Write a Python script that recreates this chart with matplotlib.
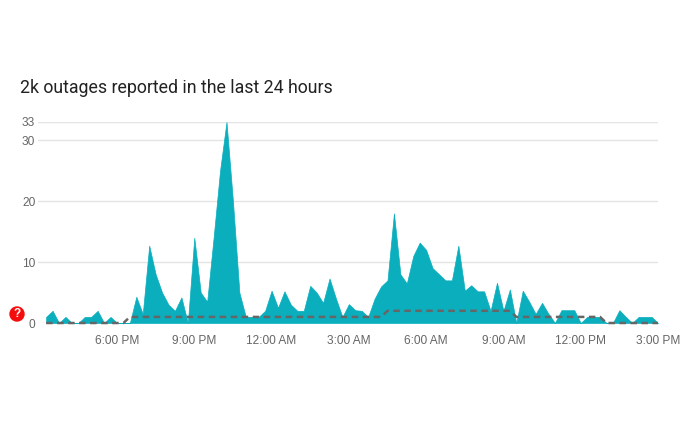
import matplotlib
matplotlib.use("Agg")
import matplotlib.pyplot as plt
import matplotlib.dates as mdates
import pandas as pd
from matplotlib.patches import Ellipse

# values every 15 minutes
reports = [1, 2, 0, 1, 0, 0, 1, 1, 2, 0, 1, 0, 0, 0, 4.3, 1.5,
           12.7, 8, 5, 3, 2, 4.2, 0, 14, 5, 3.5, 14, 25, 33, 20, 5, 1,
           1, 1, 2, 5.3, 2.5, 5.2, 3, 2, 2, 6.1, 5, 3.3, 7.3, 4, 1, 3.1,
           2.1, 2, 1, 4, 6, 7, 18, 8, 6.5, 11, 13.2, 12, 9, 8, 7, 7,
           12.7, 5.3, 6.2, 5.2, 5.2, 2, 6.6, 2, 5.5, 0, 5.3, 3.5, 1.5, 3.3, 1.5, 0,
           2.1, 2.1, 2.1, 0, 1, 1, 1, 0, 0, 2.1, 1, 0, 1, 1, 1, 0]
baseline = [0] * 13 + [1] * 40 + [2] * 20 + [1] * 14 + [0] * 9
y_ticks = [0, 10, 20, 30, 33]
tick_hours = pd.date_range("2024-01-01 18:00", "2024-01-02 15:00", freq="3h")
title = "2k outages reported in the last 24 hours"

times = pd.date_range("2024-01-01 15:15", periods=len(reports), freq="15min")

plt.rcParams["font.family"] = ["Liberation Sans", "DejaVu Sans"]

fig = plt.figure(figsize=(7, 4.3), dpi=100)
ax = fig.add_axes([38 / 700, 1 - 323 / 430, 620 / 700, 201 / 430])

ax.fill_between(times, reports, 0, color="#0aaebd", linewidth=0.5, zorder=2)
ax.plot(times, baseline, color="#666666", linewidth=1.8, linestyle=(0, (2.6, 1.8)),
        clip_on=False, zorder=3)

ax.set_xlim(times[0] - pd.Timedelta(minutes=19), times[-1])
ax.set_ylim(0, 33)
ax.set_yticks(y_ticks)
ax.set_xticks(tick_hours)
ax.xaxis.set_major_formatter(
    plt.FuncFormatter(lambda v, pos: mdates.num2date(v).strftime("%-I:%M %p"))
)
ax.tick_params(length=0, labelsize=8.6, labelcolor="#666666")
ax.tick_params(axis="x", pad=9)
ax.tick_params(axis="y", pad=2)
ax.grid(axis="y", color="#e4e4e4", linewidth=1, zorder=0)
ax.set_axisbelow(True)
for side in ax.spines:
    ax.spines[side].set_visible(False)

fig.text(20 / 700, 1 - 88 / 430, title, fontsize=12.8, color="#222222",
         family=["Roboto", "DejaVu Sans"], va="center", ha="left")

# red help badge next to the zero line
fig.add_artist(Ellipse((17 / 700, 1 - 314 / 430), 14 / 700, 14 / 430,
                       transform=fig.transFigure, color="#f40d0d"))
fig.text(17 / 700, 1 - 314 / 430, "?", fontsize=8.5, fontweight="bold", color="white",
         ha="center", va="center")

fig.savefig("out.png", dpi=100)
